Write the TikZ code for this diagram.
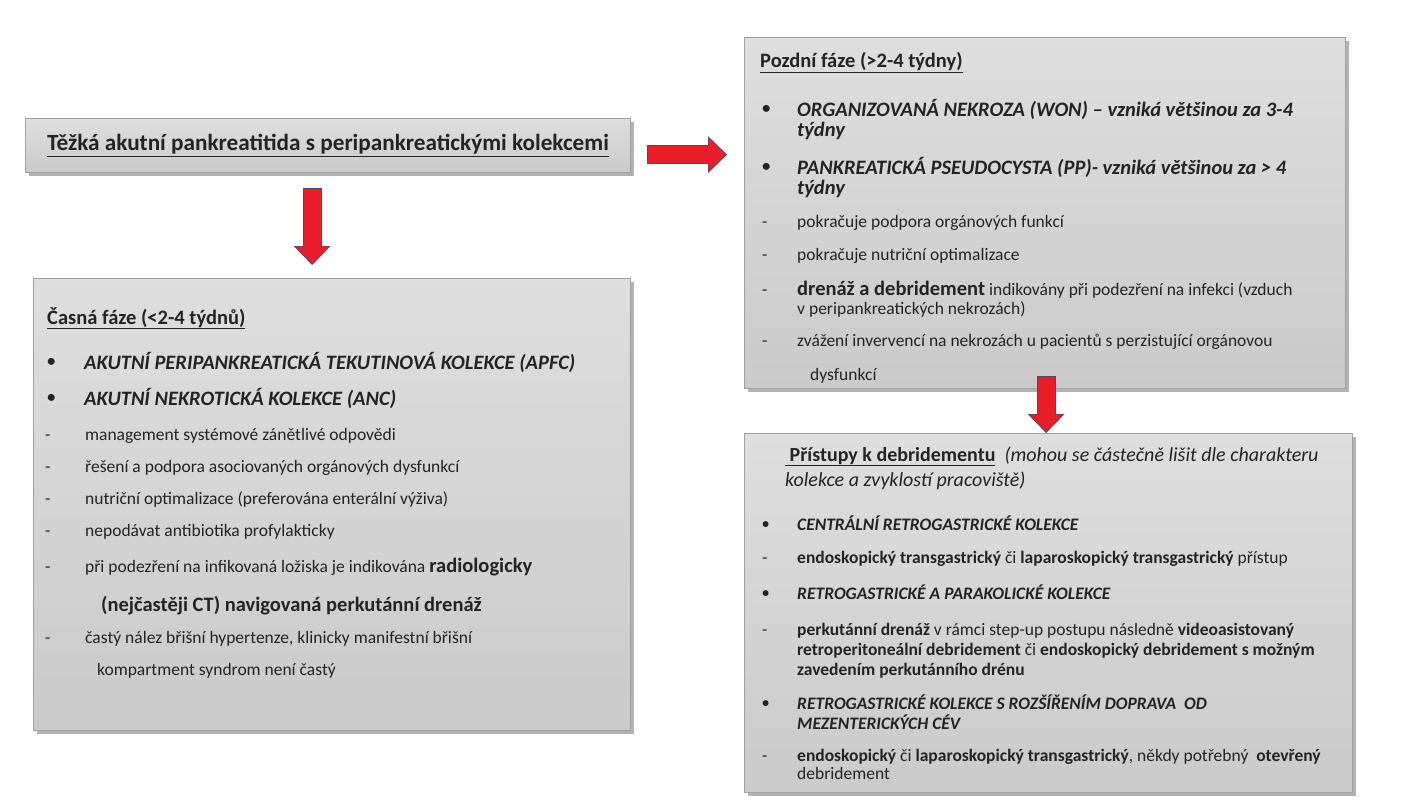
\documentclass[tikz,border=0pt]{standalone}
\usepackage{fontspec}
\setmainfont{Carlito}
\usetikzlibrary{shadows, positioning, arrows.meta}
\definecolor{box_top}{RGB}{222,222,222}
\definecolor{box_bottom}{RGB}{202,202,202}
\definecolor{box_edge}{RGB}{160,160,160}
\definecolor{my_red}{RGB}{233,30,42}
\definecolor{my_navy}{RGB}{85,70,110}
\definecolor{my_text}{RGB}{35,35,35}
\newcommand{\itm}[3][35pt]{\makebox[#1][l]{#2}\begin{tabular}[t]{@{}l@{}}#3\end{tabular}}
\newcommand{\bul}{\raisebox{0.1em}{\scalebox{0.8}{\textbullet}}}
\tikzset {
  bigbox/.style = {draw=box_edge, line width=1.2pt, top color=box_top, bottom color=box_bottom, anchor=north west, inner sep=0pt, drop shadow={shadow xshift=3pt, shadow yshift=-3pt, fill=black, opacity=0.3}},
  txt/.style = {anchor=base west, inner sep=0pt, text=my_text, font=\fontsize{17.5}{19}\selectfont},
  head/.style = {txt, font=\fontsize{20.5}{20}\selectfont\bfseries},
  big/.style = {txt, font=\fontsize{20.5}{20}\selectfont\bfseries\itshape},
  small/.style = {txt, font=\fontsize{17.5}{19}\selectfont\bfseries\itshape},
  line/.style = {draw=my_red, line width=17pt, shorten >=1.5pt, shorten <=1pt, -{Triangle[length=17pt, width=33pt, line width=0pt]}, preaction={draw=my_navy, line width=19pt, shorten >=0pt, shorten <=0pt, -{Triangle[length=19pt, width=37pt, line width=0pt]}}}
}
\begin{document}
\begin{tikzpicture}[x=1pt, y=-1pt]
    \useasboundingbox (0,0) rectangle (1401,800);

    % boxes
    \node[bigbox, minimum width=605pt, minimum height=54pt, font=\fontsize{23.2}{26}\selectfont\bfseries, text=my_text] (title) at (25,118) {\raisebox{2pt}{\underline{Těžká akutní pankreatitida s peripankreatickými kolekcemi}}};
    \node[bigbox, minimum width=597pt, minimum height=452pt] (early) at (33,278) {};
    \node[bigbox, minimum width=601pt, minimum height=351pt] (late) at (744,37) {};
    \node[bigbox, minimum width=608pt, minimum height=359pt] (approach) at (744,433) {};

    % early phase
    \node[head] (early_h) at (47,324) {\underline{Časná fáze (<2-4 týdnů)}};
    \node[big] (early_1) at (47,369) {\itm[37pt]{\bul}{AKUTNÍ PERIPANKREATICKÁ TEKUTINOVÁ KOLEKCE (APFC)}};
    \node[big] (early_2) at (47,405) {\itm[37pt]{\bul}{AKUTNÍ NEKROTICKÁ KOLEKCE (ANC)}};
    \node[txt] (early_3) at (45,440) {\itm[40pt]{-}{management systémové zánětlivé odpovědi}};
    \node[txt] (early_4) at (45,472) {\itm[40pt]{-}{řešení a podpora asociovaných orgánových dysfunkcí}};
    \node[txt] (early_5) at (45,504) {\itm[40pt]{-}{nutriční optimalizace (preferována enterální výživa)}};
    \node[txt] (early_6) at (45,536) {\itm[40pt]{-}{nepodávat antibiotika profylakticky}};
    \node[txt] (early_7) at (45,572) {\itm[40pt]{-}{při podezření na infikovaná ložiska je indikována {\fontsize{20.5}{20}\selectfont\bfseries radiologicky}}};
    \node[head] (early_8) at (101,611) {(nejčastěji CT) navigovaná perkutánní drenáž};
    \node[txt] (early_9) at (45,643) {\itm[40pt]{-}{častý nález břišní hypertenze, klinicky manifestní břišní}};
    \node[txt] (early_10) at (97,675) {kompartment syndrom není častý};

    % late phase
    \node[head] (late_h) at (760,68) {\underline{Pozdní fáze (>2-4 týdny)}};
    \node[big] (late_1) at (762,116) {\itm{\bul}{ORGANIZOVANÁ NEKROZA (WON) – vzniká většinou za 3-4\\týdny}};
    \node[big] (late_2) at (762,174) {\itm{\bul}{PANKREATICKÁ PSEUDOCYSTA (PP)- vzniká většinou za > 4\\týdny}};
    \node[txt] (late_3) at (762,227) {\itm{-}{pokračuje podpora orgánových funkcí}};
    \node[txt] (late_4) at (762,260) {\itm{-}{pokračuje nutriční optimalizace}};
    \node[txt] (late_5) at (762,295) {\itm{-}{{\fontsize{20.5}{19}\selectfont\bfseries drenáž a debridement} indikovány při podezření na infekci (vzduch\\v peripankreatických nekrozách)}};
    \node[txt] (late_6) at (762,346) {\itm{-}{zvážení invervencí na nekrozách u pacientů s perzistující orgánovou}};
    \node[txt] (late_7) at (810,380) {dysfunkcí};

    % debridement approaches
    \node[txt, font=\fontsize{20}{25}\selectfont] (appr_h) at (785,461) {\begin{tabular}[t]{@{}l@{}}{\bfseries\underline{\ Přístupy k debridementu}}\ \ {\itshape (mohou se částečně lišit dle charakteru}\\{\itshape kolekce a zvyklostí pracoviště)}\end{tabular}};
    \node[small] (appr_1) at (762,530) {\itm{\bul}{CENTRÁLNÍ RETROGASTRICKÉ KOLEKCE}};
    \node[txt] (appr_2) at (762,563) {\itm{-}{\textbf{endoskopický transgastrický} či \textbf{laparoskopický transgastrický} přístup}};
    \node[small] (appr_3) at (762,599) {\itm{\bul}{RETROGASTRICKÉ A PARAKOLICKÉ KOLEKCE}};
    \node[txt, font=\fontsize{17.5}{20}\selectfont] (appr_4) at (762,635) {\itm{-}{\textbf{perkutánní drenáž} v rámci step-up postupu následně \textbf{videoasistovaný}\\\textbf{retroperitoneální debridement} či \textbf{endoskopický debridement s možným}\\\textbf{zavedením perkutánního drénu}}};
    \node[small] (appr_5) at (762,709) {\itm{\bul}{RETROGASTRICKÉ KOLEKCE S ROZŠÍŘENÍM DOPRAVA\ \ OD\\MEZENTERICKÝCH CÉV}};
    \node[txt, font=\fontsize{17.5}{18}\selectfont] (appr_6) at (762,761) {\itm{-}{\textbf{endoskopický} či \textbf{laparoskopický transgastrický}, někdy potřebný\ \ \textbf{otevřený}\\debridement}};

    % arrows
    \coordinate (a1) at ([xshift=-16pt, yshift=-15pt]title.south);
    \coordinate (a1e) at ([yshift=13pt]early.north);
    \draw[line] (a1) -- (a1 |- a1e);
    \coordinate (a2) at ([xshift=16pt, yshift=-9pt]title.east);
    \coordinate (a2e) at ([xshift=-17pt]late.west);
    \draw[line] (a2) -- (a2 -| a2e);
    \coordinate (a3) at ([xshift=1pt, yshift=13pt]late.south);
    \draw[line] (a3) -- (a3 |- approach.north);
\end{tikzpicture}
\end{document}
